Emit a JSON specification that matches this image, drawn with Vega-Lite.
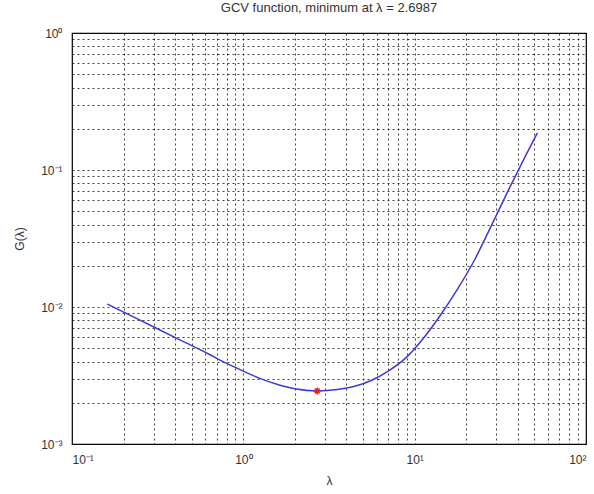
{
  "$schema": "https://vega.github.io/schema/vega-lite/v6.json",
  "width": 514,
  "height": 411,
  "autosize": {"type": "none"},
  "padding": {"left": 72, "top": 33, "right": 8, "bottom": 50},
  "background": "white",
  "title": {
    "text": "GCV function, minimum at λ = 2.6987",
    "font": "Liberation Sans",
    "fontSize": 13,
    "fontWeight": "normal",
    "color": "#333333",
    "anchor": "middle",
    "offset": 12
  },
  "config": {
    "view": {"stroke": "#000000", "strokeWidth": 1.2},
    "axis": {
      "labelFont": "Liberation Sans",
      "labelFontSize": 12,
      "labelColor": "#333333",
      "titleFont": "Liberation Sans",
      "titleFontSize": 12,
      "titleFontWeight": "normal",
      "titleColor": "#333333",
      "grid": true,
      "gridColor": "#111111",
      "gridDash": [2, 3],
      "gridOpacity": 0.8,
      "gridWidth": 1,
      "ticks": false,
      "domain": false,
      "labelOverlap": false
    }
  },
  "datasets": {
    "curve": [
      {"lambda": 0.1607, "G": 0.01052},
      {"lambda": 0.2512, "G": 0.00798},
      {"lambda": 0.3981, "G": 0.00600},
      {"lambda": 0.631, "G": 0.00452},
      {"lambda": 0.7943, "G": 0.00389},
      {"lambda": 1.0, "G": 0.00340},
      {"lambda": 1.259, "G": 0.00300},
      {"lambda": 1.585, "G": 0.00272},
      {"lambda": 1.995, "G": 0.00253},
      {"lambda": 2.6987, "G": 0.00244},
      {"lambda": 3.548, "G": 0.00250},
      {"lambda": 4.467, "G": 0.00264},
      {"lambda": 5.623, "G": 0.00292},
      {"lambda": 7.079, "G": 0.00343},
      {"lambda": 8.913, "G": 0.00427},
      {"lambda": 11.22, "G": 0.00589},
      {"lambda": 14.13, "G": 0.00871},
      {"lambda": 17.78, "G": 0.01349},
      {"lambda": 22.39, "G": 0.02213},
      {"lambda": 28.18, "G": 0.03981},
      {"lambda": 35.48, "G": 0.07244},
      {"lambda": 44.67, "G": 0.1288},
      {"lambda": 52.0, "G": 0.1862}
    ],
    "minimum": [{"lambda": 2.6987, "G": 0.00244}]
  },
  "layer": [
    {
      "data": {"name": "curve"},
      "mark": {"type": "line", "color": "#3a3ad8", "strokeWidth": 1.5, "interpolate": "monotone", "clip": true},
      "encoding": {
        "x": {
          "field": "lambda",
          "type": "quantitative",
          "scale": {"type": "log", "domain": [0.1, 100], "nice": false},
          "axis": {
            "title": "λ",
            "titlePadding": 10,
            "labelPadding": 10,
            "tickCount": 30,
            "labelExpr": "abs(log(datum.value)/LN10 - round(log(datum.value)/LN10)) > 0.001 ? '' : round(log(datum.value)/LN10) == -1 ? '10⁻¹' : round(log(datum.value)/LN10) == 0 ? '10⁰' : round(log(datum.value)/LN10) == 1 ? '10¹' : '10²'"
          }
        },
        "y": {
          "field": "G",
          "type": "quantitative",
          "scale": {"type": "log", "domain": [0.001, 1], "nice": false},
          "axis": {
            "title": "G(λ)",
            "titlePadding": 14,
            "labelPadding": 10,
            "tickCount": 30,
            "labelExpr": "abs(log(datum.value)/LN10 - round(log(datum.value)/LN10)) > 0.001 ? '' : round(log(datum.value)/LN10) == -3 ? '10⁻³' : round(log(datum.value)/LN10) == -2 ? '10⁻²' : round(log(datum.value)/LN10) == -1 ? '10⁻¹' : '10⁰'"
          }
        }
      }
    },
    {
      "data": {"name": "minimum"},
      "mark": {
        "type": "point",
        "shape": "M-1,0L1,0M0,-1L0,1M-0.7,-0.7L0.7,0.7M-0.7,0.7L0.7,-0.7",
        "stroke": "#e8202a",
        "strokeWidth": 1.6,
        "size": 50,
        "filled": false,
        "opacity": 1
      },
      "encoding": {
        "x": {"field": "lambda", "type": "quantitative"},
        "y": {"field": "G", "type": "quantitative"}
      }
    }
  ]
}
